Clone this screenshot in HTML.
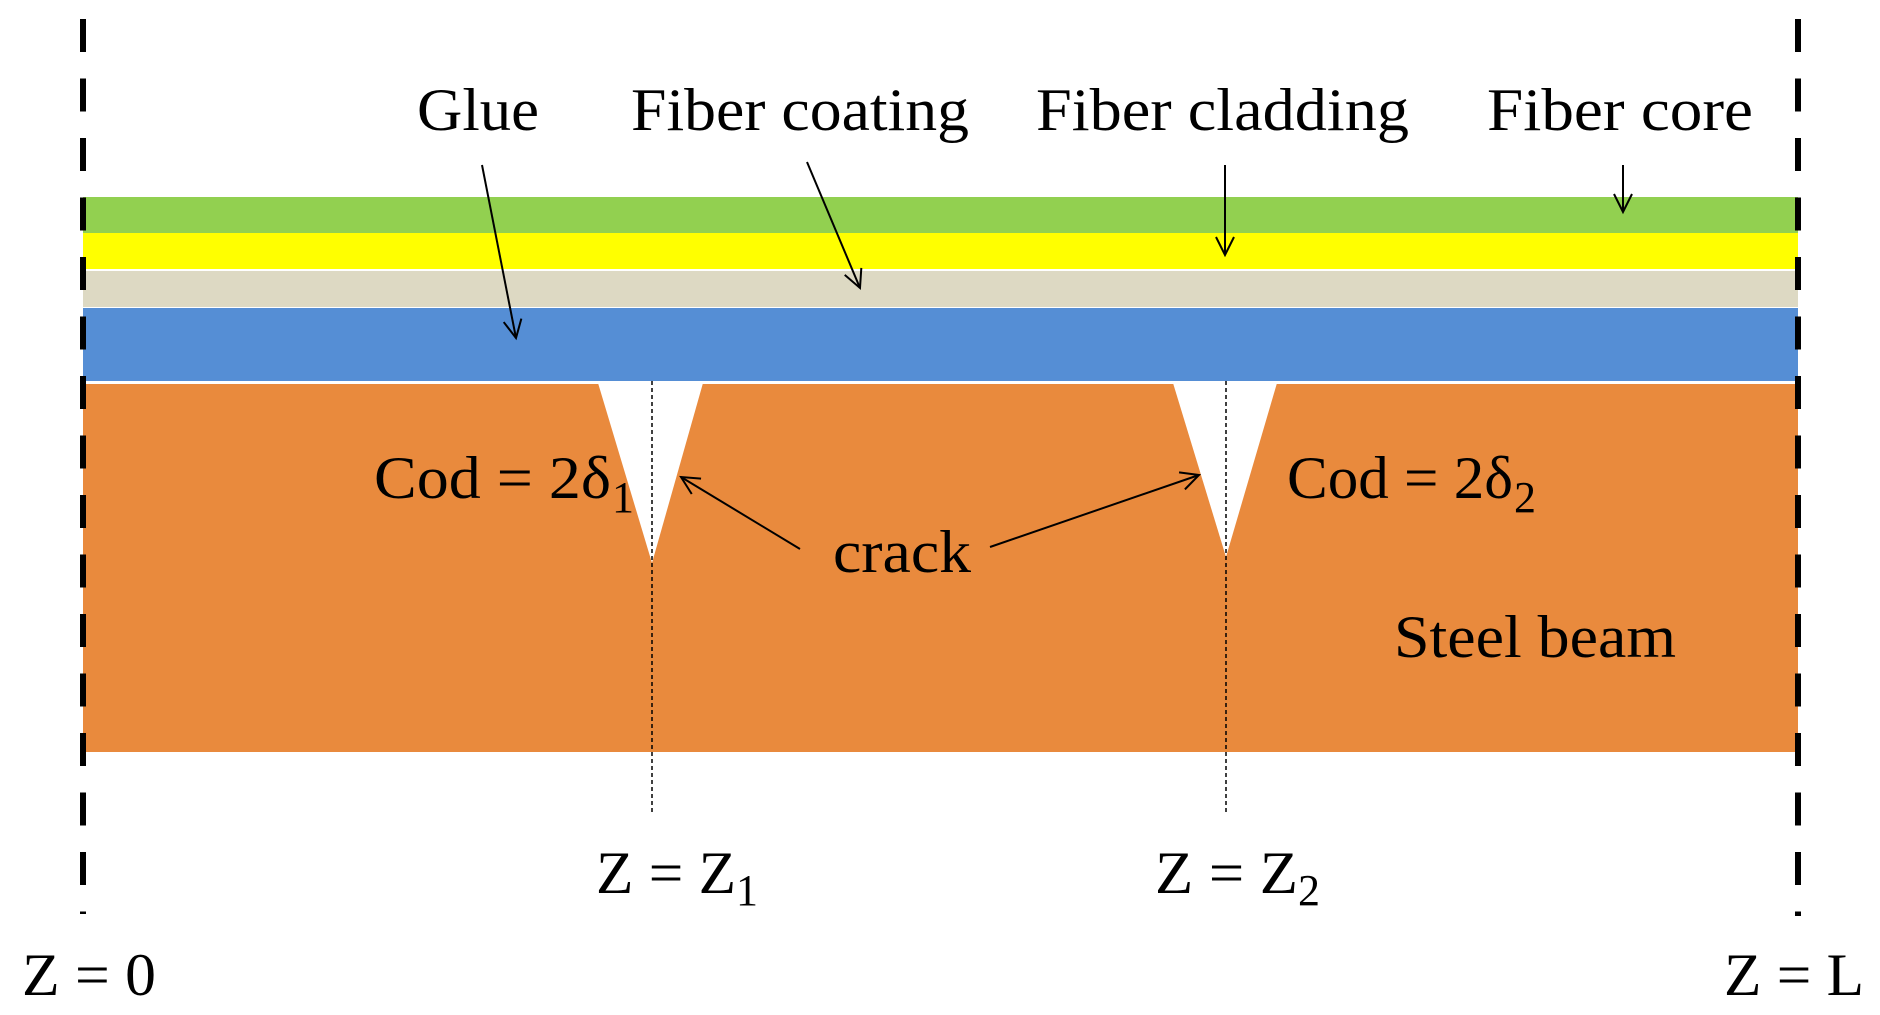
<!DOCTYPE html>
<html><head><meta charset="utf-8"><style>
html,body{margin:0;padding:0;background:#fff;}
svg{display:block}
text{font-family:"Liberation Serif",serif;fill:#000;}
</style></head><body>
<svg width="1880" height="1015" viewBox="0 0 1880 1015" xmlns="http://www.w3.org/2000/svg">
<defs>
<marker id="a" markerWidth="30" markerHeight="30" refX="20" refY="10" orient="auto" markerUnits="userSpaceOnUse">
<path d="M2,1 L20,10 L2,19" fill="none" stroke="#000" stroke-width="2"/>
</marker>
</defs>
<rect x="83" y="197" width="1715" height="36" fill="#92d050"/>
<rect x="83" y="233" width="1715" height="36" fill="#ffff00"/>
<rect x="83" y="271" width="1715" height="36" fill="#ddd9c3"/>
<rect x="83" y="308" width="1715" height="73" fill="#558ed5"/>
<rect x="83" y="384" width="1715" height="368" fill="#e98a3d"/>
<polygon points="598,383 703,383 652,563" fill="#fff"/>
<polygon points="1173,383 1277,383 1226,557" fill="#fff"/>
<line x1="652" y1="381" x2="652" y2="812" stroke="#000" stroke-width="1.5" stroke-dasharray="4,3"/>
<line x1="1226" y1="381" x2="1226" y2="814" stroke="#000" stroke-width="1.5" stroke-dasharray="4,3"/>
<line x1="83" y1="19" x2="83" y2="914" stroke="#000" stroke-width="6" stroke-dasharray="33,26.5"/>
<line x1="1798" y1="19" x2="1798" y2="916" stroke="#000" stroke-width="6" stroke-dasharray="33,26.5"/>
<g stroke="#000" stroke-width="2" fill="none" marker-end="url(#a)">
<line x1="482" y1="165" x2="516" y2="338"/>
<line x1="807" y1="162" x2="860" y2="288"/>
<line x1="1225" y1="165" x2="1225" y2="255"/>
<line x1="1623" y1="165" x2="1623" y2="212"/>
<line x1="800" y1="549" x2="681" y2="477"/>
<line x1="990" y1="547" x2="1199" y2="475"/>
</g>
<g font-size="60">
<text x="417" y="130" textLength="122" lengthAdjust="spacingAndGlyphs">Glue</text>
<text x="631" y="130" textLength="338" lengthAdjust="spacingAndGlyphs">Fiber coating</text>
<text x="1036" y="130" textLength="373" lengthAdjust="spacingAndGlyphs">Fiber cladding</text>
<text x="1487" y="130" textLength="266" lengthAdjust="spacingAndGlyphs">Fiber core</text>
<text x="374" y="498" textLength="237" lengthAdjust="spacingAndGlyphs">Cod = 2δ</text>
<text x="612" y="512" font-size="44">1</text>
<text x="1287" y="498" textLength="226" lengthAdjust="spacingAndGlyphs">Cod = 2δ</text>
<text x="1514" y="512" font-size="44">2</text>
<text x="833" y="572" textLength="138" lengthAdjust="spacingAndGlyphs">crack</text>
<text x="1394" y="657" textLength="282" lengthAdjust="spacingAndGlyphs">Steel beam</text>
<text x="596" y="893" textLength="140" lengthAdjust="spacingAndGlyphs">Z = Z</text>
<text x="736" y="905" font-size="44">1</text>
<text x="1155" y="893" textLength="143" lengthAdjust="spacingAndGlyphs">Z = Z</text>
<text x="1298" y="905" font-size="44">2</text>
<text x="22" y="995" textLength="134" lengthAdjust="spacingAndGlyphs">Z = 0</text>
<text x="1724" y="995" textLength="140" lengthAdjust="spacingAndGlyphs">Z = L</text>
</g>
</svg>
</body></html>
